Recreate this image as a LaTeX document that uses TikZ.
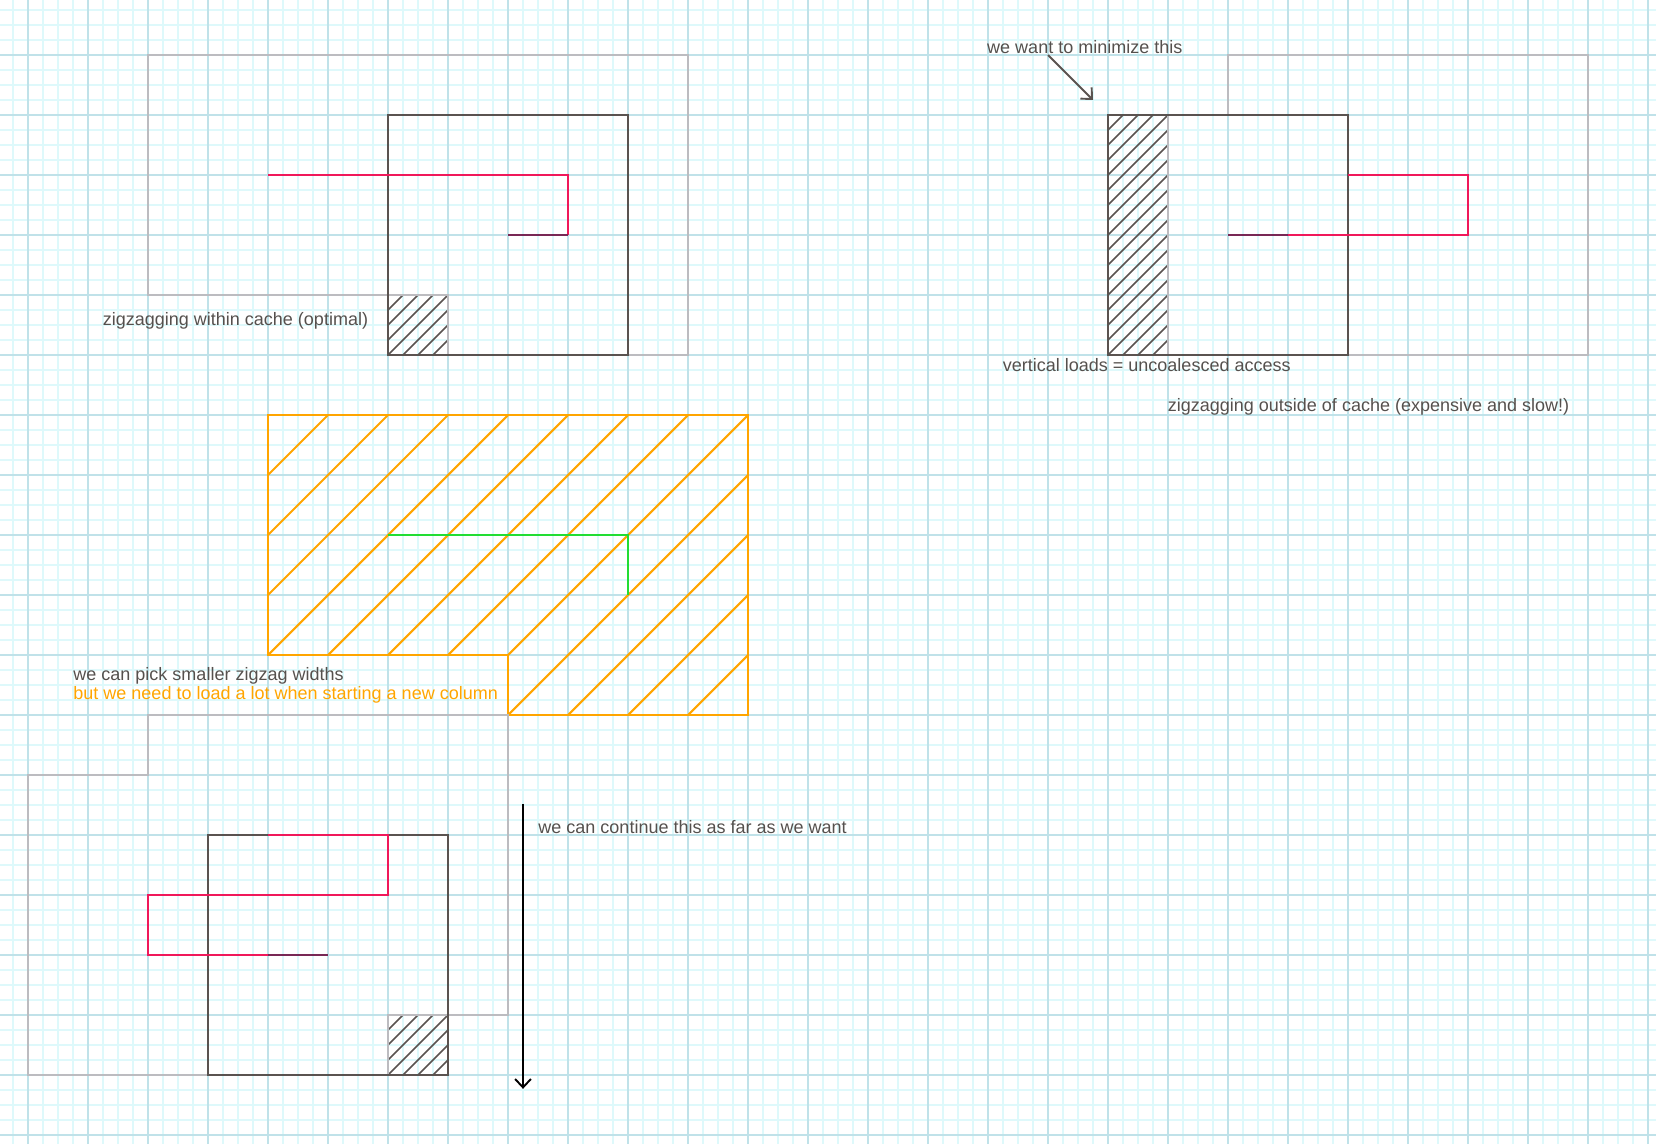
\documentclass[tikz,border=0pt]{standalone}
\usepackage{fontspec}
\setmainfont{Liberation Sans}
\usetikzlibrary{arrows.meta}
\definecolor{gridmajor}{RGB}{192,226,233}
\definecolor{gridminor}{RGB}{222,249,251}
\definecolor{darkline}{RGB}{90,83,80}
\definecolor{lightline}{RGB}{188,188,192}
\definecolor{redline}{RGB}{240,24,90}
\definecolor{purpleline}{RGB}{120,40,85}
\definecolor{orangeline}{RGB}{255,165,0}
\definecolor{greenline}{RGB}{34,221,51}
\definecolor{textgray}{RGB}{85,80,77}
\begin{document}
\begin{tikzpicture}[x=1cm,y=1cm,
  lbl/.style={font=\fontsize{8.54}{10}\selectfont, text=textgray, inner sep=0pt, anchor=west},
  cachebox/.style={draw=lightline, line width=1.3pt},
  tilebox/.style={draw=darkline, line width=1pt},
  hatchline/.style={draw=darkline, line width=0.7pt},
  zigzag/.style={draw=redline, line width=1pt},
  lastseg/.style={draw=purpleline, line width=1pt},
  orangebox/.style={draw=orangeline, line width=1pt},
  greenpath/.style={draw=greenline, line width=1pt},
  barb/.style={-{Straight Barb[length=4pt,width=7.5pt]}}
]
\useasboundingbox (-0.46667,0.91667) rectangle (27.13333,-18.15);
% paper grid
\begin{scope}
\clip (-0.46667,0.91667) rectangle (27.13333,-18.15);
\draw[gridminor, line width=0.7pt, step=0.25] (-0.5,1) grid (27.25,-18.25);
\draw[gridmajor, line width=0.7pt, step=1] (-0.5,1) grid (27.25,-18.25);
\end{scope}

% ---------- top-left: zigzagging within cache ----------
\draw[cachebox] (6,-4) -- (2,-4) -- (2,0) -- (11,0) -- (11,-5) -- (6,-5);
\begin{scope}
\clip (6,-4) rectangle (7,-5);
\foreach \t in {-1,-0.75,...,1} \draw[hatchline] (6+\t,-5) -- ++(1,1);
\end{scope}
\draw[cachebox] (6,-4) rectangle (7,-5);
\draw[tilebox] (6,-1) rectangle (10,-5);
\draw[zigzag] (4,-2) -- (9,-2) -- (9,-3);
\draw[lastseg] (9,-3) -- (8,-3);
\node[lbl] (tWithin) at (1.24,-4.43) {zigzagging within cache (optimal)};

% ---------- top-right: zigzagging outside of cache ----------
\draw[cachebox] (20,-1) -- (20,0) -- (26,0) -- (26,-5) -- (22,-5);
\begin{scope}
\clip (18,-1) rectangle (19,-5);
\foreach \t in {-4,-3.75,...,1} \draw[hatchline] (18+\t,-5) -- ++(4,4);
\end{scope}
\draw[cachebox] (18,-1) rectangle (19,-5);
\draw[tilebox] (18,-1) rectangle (22,-5);
\draw[zigzag] (22,-2) -- (24,-2) -- (24,-3) -- (21,-3);
\draw[lastseg] (21,-3) -- (20,-3);
\node[lbl] (tMin) at (15.98,0.14) {we want to minimize this};
\coordinate (minA) at (17,0);
\coordinate (minB) at (17.75,-0.75);
\draw[darkline, line width=0.9pt, barb] (minA) -- (minB);
\node[lbl] (tVert) at (16.24,-5.16) {vertical loads = uncoalesced access};
\node[lbl] (tOutside) at (18.99,-5.86) {zigzagging outside of cache (expensive and slow!)};

% ---------- middle: orange region ----------
\begin{scope}
\clip (4,-6) -- (12,-6) -- (12,-11) -- (8,-11) -- (8,-10) -- (4,-10) -- cycle;
\foreach \c in {-11,-12,...,-22} \draw[orangebox] (3,3+\c) -- (13,13+\c);
\end{scope}
\draw[orangebox] (4,-6) -- (12,-6) -- (12,-11) -- (8,-11) -- (8,-10) -- (4,-10) -- cycle;
\draw[greenpath] (6,-8) -- (10,-8) -- (10,-9);
\node[lbl] (tPick) at (0.75,-10.35) {we can pick smaller zigzag widths};
\node[lbl, text=orangeline] (tLoad) at (0.75,-10.67) {but we need to load a lot when starting a new column};

% ---------- bottom-left ----------
\draw[cachebox] (3,-17) -- (0,-17) -- (0,-12) -- (2,-12) -- (2,-11) -- (8,-11) -- (8,-16) -- (7,-16);
\begin{scope}
\clip (6,-16) rectangle (7,-17);
\foreach \t in {-1,-0.75,...,1} \draw[hatchline] (6+\t,-17) -- ++(1,1);
\end{scope}
\draw[cachebox] (6,-16) rectangle (7,-17);
\draw[tilebox] (3,-13) rectangle (7,-17);
\draw[zigzag] (4,-13) -- (6,-13) -- (6,-14) -- (2,-14) -- (2,-15) -- (4,-15);
\draw[lastseg] (4,-15) -- (5,-15);
\coordinate (contA) at (8.25,-12.48);
\coordinate (contB) at (8.25,-17.23);
\draw[black, line width=0.9pt, barb] (contA) -- (contB);
\node[lbl] (tCont) at (8.5,-12.86) {we can continue this as far as we want};
\end{tikzpicture}
\end{document}
